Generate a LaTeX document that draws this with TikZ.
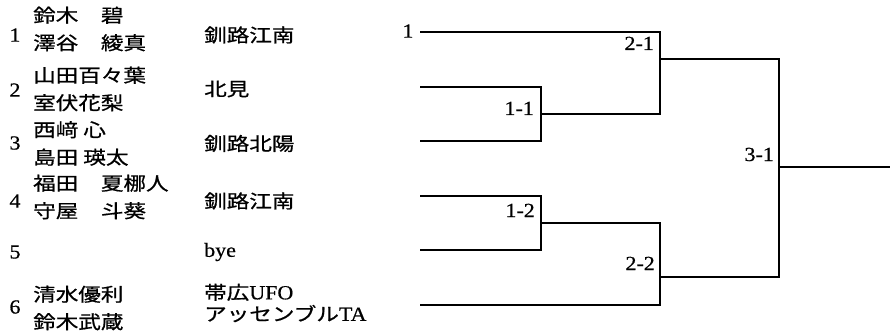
\documentclass[tikz,border=0pt]{standalone}
\usepackage{fontspec}
\setmainfont[FakeStretch=1.1, FakeBold=0.6]{Liberation Serif}
\newfontfamily\jpfont[FakeStretch=1.22, FakeBold=0.8]{Noto Sans CJK JP}
\begin{document}
\begin{tikzpicture}[x=1pt, y=-1pt, line width=2.4pt,
        seed/.style = {inner sep=0pt, font=\fontsize{20}{22}\selectfont},
        entry/.style = {anchor=west, inner sep=0pt, align=left, font=\jpfont\fontsize{18.5}{27.5}\selectfont},
        club/.style = {anchor=west, inner sep=0pt, align=left, font=\fontsize{20}{21.5}\selectfont},
        game/.style = {anchor=base east, inner sep=0pt, font=\fontsize{20}{22}\selectfont}]
        \useasboundingbox (0,0) rectangle (890,331);
        % entries
        \node[seed] (n1) at (15,35) {1};
        \node[entry] (p1) at (32,29) {鈴木　碧\\澤谷　綾真};
        \node[club] (c1) at (203,35) {\jpfont\fontsize{18.5}{21.5}\selectfont 釧路江南};
        \node[seed] (n2) at (15,90) {2};
        \node[entry] (p2) at (32,89) {山田百々葉\\室伏花梨};
        \node[club] (c2) at (203,89) {\jpfont\fontsize{18.5}{21.5}\selectfont 北見};
        \node[seed] (n3) at (15,143) {3};
        \node[entry] (p3) at (32,143.5) {西﨑 心\\島田 瑛太};
        \node[club] (c3) at (203,143.5) {\jpfont\fontsize{18.5}{21.5}\selectfont 釧路北陽};
        \node[seed] (n4) at (15,201) {4};
        \node[entry] (p4) at (32,197) {福田　夏梛人\\守屋　斗葵};
        \node[club] (c4) at (203,201) {\jpfont\fontsize{18.5}{21.5}\selectfont 釧路江南};
        \node[seed] (n5) at (15,252) {5};
        \node[club] (c5) at (203,252) {bye};
        \node[seed] (n6) at (15,307) {6};
        \node[entry] (p6) at (32,308) {清水優利\\鈴木武蔵};
        \node[club] (c6) at (203,303) {{\jpfont\fontsize{18.5}{21.5}\selectfont 帯広}UFO\\{\jpfont\fontsize{18.5}{21.5}\selectfont アッセンブル}TA};
        % bracket
        \node[seed] (s1) at (408,31) {1};
        \coordinate (e1) at (420,32);
        \coordinate (e2) at (420,87);
        \coordinate (e3) at (420,141);
        \coordinate (e4) at (420,196);
        \coordinate (e5) at (420,250);
        \coordinate (e6) at (420,305);
        \coordinate (w11) at (541,114);
        \coordinate (w12) at (541,223);
        \coordinate (w21) at (660,59);
        \coordinate (w22) at (660,277);
        \coordinate (w31) at (779,167);
        \coordinate (fin) at (890,167);
        \draw (e2) -| (w11) |- (e3);
        \draw (e4) -| (w12) |- (e5);
        \draw (e1) -| (w21) |- (w11);
        \draw (w12) -| (w22) |- (e6);
        \draw (w21) -| (w31) |- (w22);
        \draw (w31) -- (fin);
        \node[game] (g11) at (535,115) {1-1};
        \node[game] (g12) at (536,217) {1-2};
        \node[game] (g21) at (655,50) {2-1};
        \node[game] (g22) at (656,270) {2-2};
        \node[game] (g31) at (775,161) {3-1};
\end{tikzpicture}
\end{document}
